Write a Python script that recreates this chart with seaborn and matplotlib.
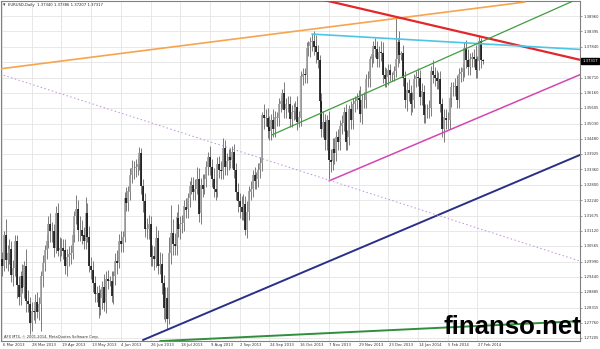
import numpy as np
import pandas as pd
import matplotlib
matplotlib.use("Agg")
import matplotlib.pyplot as plt
import matplotlib.transforms as mtransforms
import seaborn as sns

# ---------------- data ----------------
symbol_title = "EURUSD,Daily  1.37340 1.37386 1.37207 1.37317"
copyright_text = "AFX MT4, \u00a9 2001-2014, MetaQuotes Software Corp."
watermark = "finanso.net"
current_price = 1.37317

date_ticks = [0, 16, 32, 48, 64, 80, 96, 112, 128, 144, 160, 176, 192, 208, 224, 240, 256]
date_labels = ["6 Mar 2013", "28 Mar 2013", "19 Apr 2013", "13 May 2013", "4 Jun 2013",
               "26 Jun 2013", "18 Jul 2013", "9 Aug 2013", "2 Sep 2013", "24 Sep 2013",
               "16 Oct 2013", "7 Nov 2013", "29 Nov 2013", "23 Dec 2013", "14 Jan 2014",
               "5 Feb 2014", "27 Feb 2014"]

price_ticks = [1.38960, 1.38395, 1.37840, 1.37285, 1.36710, 1.36160, 1.35605, 1.35030,
               1.34480, 1.33925, 1.33360, 1.32800, 1.32240, 1.31675, 1.31120, 1.30565,
               1.29990, 1.29440, 1.28885, 1.28315, 1.27760, 1.27205]

first_open = 1.3010
close = [
    1.2985, 1.3095, 1.3005, 1.3030, 1.3045, 1.2950, 1.2975, 1.3075, 1.2915, 1.2870,
    1.2945, 1.2905, 1.2985, 1.2855, 1.2845, 1.2775, 1.2820, 1.2815, 1.2850, 1.2815,
    1.2845, 1.2945, 1.2995, 1.3040, 1.3075, 1.3135, 1.3110, 1.3110, 1.3050, 1.3175,
    1.3040, 1.3050, 1.3050, 1.3040, 1.2985, 1.3015, 1.3025, 1.3030, 1.3095, 1.3165,
    1.3190, 1.3115, 1.3115, 1.3095, 1.3075, 1.3175, 1.3090, 1.2985, 1.2970, 1.2920,
    1.2880, 1.2885, 1.2835, 1.2865, 1.2905, 1.2850, 1.2935, 1.2930, 1.2930, 1.2875,
    1.2945, 1.3000, 1.2995, 1.3075, 1.3065, 1.3090, 1.3230, 1.3215, 1.3255, 1.3315,
    1.3340, 1.3340, 1.3345, 1.3355, 1.3395, 1.3275, 1.3220, 1.3120, 1.3120, 1.3135,
    1.3015, 1.3020, 1.3010, 1.3085, 1.2985, 1.2990, 1.2920, 1.2830, 1.2865, 1.2790,
    1.3030, 1.3105, 1.3065, 1.3055, 1.3160, 1.3120, 1.3135, 1.3140, 1.3200, 1.3190,
    1.3230, 1.3275, 1.3280, 1.3255, 1.3265, 1.3300, 1.3175, 1.3280, 1.3265, 1.3300,
    1.3345, 1.3380, 1.3345, 1.3300, 1.3265, 1.3255, 1.3355, 1.3335, 1.3330, 1.3415,
    1.3345, 1.3365, 1.3380, 1.3370, 1.3400, 1.3335, 1.3255, 1.3220, 1.3200, 1.3180,
    1.3210, 1.3115, 1.3180, 1.3255, 1.3265, 1.3315, 1.3295, 1.3300, 1.3335, 1.3360,
    1.3535, 1.3525, 1.3525, 1.3490, 1.3475, 1.3515, 1.3485, 1.3525, 1.3525, 1.3575,
    1.3585, 1.3615, 1.3555, 1.3575, 1.3575, 1.3520, 1.3545, 1.3550, 1.3565, 1.3510,
    1.3525, 1.3675, 1.3685, 1.3680, 1.3780, 1.3785, 1.3800, 1.3805, 1.3785, 1.3765,
    1.3735, 1.3585, 1.3485, 1.3510, 1.3445, 1.3515, 1.3370, 1.3365, 1.3410, 1.3395,
    1.3455, 1.3435, 1.3495, 1.3505, 1.3545, 1.3435, 1.3455, 1.3555, 1.3515, 1.3575,
    1.3585, 1.3595, 1.3590, 1.3540, 1.3590, 1.3590, 1.3665, 1.3665, 1.3740, 1.3755,
    1.3785, 1.3775, 1.3740, 1.3765, 1.3760, 1.3680, 1.3665, 1.3675, 1.3700, 1.3680,
    1.3680, 1.3695, 1.3740, 1.3800, 1.3755, 1.3760, 1.3670, 1.3590, 1.3625, 1.3615,
    1.3575, 1.3590, 1.3665, 1.3675, 1.3670, 1.3600, 1.3620, 1.3535, 1.3555, 1.3555,
    1.3560, 1.3695, 1.3680, 1.3670, 1.3660, 1.3665, 1.3575, 1.3485, 1.3525, 1.3515,
    1.3515, 1.3595, 1.3635, 1.3635, 1.3640, 1.3590, 1.3685, 1.3690, 1.3705, 1.3780,
    1.3735, 1.3710, 1.3740, 1.3745, 1.3740, 1.3700, 1.3730, 1.3805, 1.3735, 1.37317,
]
# wick lengths in pips (above max(open, close) / below min(open, close))
upper_wick = [
    25, 15, 60, 30, 35, 30, 30, 20, 20, 30,
    20, 45, 15, 60, 40, 25, 30, 15, 30, 40,
    25, 20, 30, 20, 25, 30, 40, 35, 25, 28,
    40, 40, 35, 30, 40, 30, 30, 30, 25, 20,
    53, 35, 50, 35, 30, 60, 40, 40, 30, 30,
    25, 25, 30, 35, 25, 50, 30, 35, 15, 35,
    20, 30, 40, 25, 35, 20, 25, 40, 20, 25,
    30, 25, 30, 25, 21, 20, 25, 30, 40, 35,
    30, 40, 35, 45, 30, 45, 40, 30, 40, 40,
    60, 100, 50, 40, 20, 50, 30, 30, 25, 30,
    20, 20, 30, 30, 35, 45, 40, 25, 40, 20,
    20, 20, 40, 30, 40, 40, 25, 30, 30, 37,
    30, 30, 30, 35, 20, 30, 25, 30, 30, 40,
    35, 30, 40, 20, 30, 20, 30, 25, 25, 20,
    10, 40, 30, 35, 40, 25, 40, 25, 20, 20,
    20, 15, 40, 20, 30, 30, 25, 30, 20, 40,
    25, 20, 20, 20, 20, 20, 20, 27, 35, 40,
    25, 20, 30, 40, 30, 20, 35, 40, 40, 40,
    20, 30, 20, 30, 20, 30, 25, 15, 30, 20,
    20, 20, 30, 50, 20, 30, 20, 30, 10, 20,
    20, 30, 30, 20, 40, 40, 30, 30, 20, 20,
    10, 20, 153, 15, 40, 10, 30, 25, 30, 40,
    30, 30, 20, 20, 30, 30, 30, 25, 20, 20,
    30, 20, 40, 30, 30, 25, 30, 20, 30, 30,
    30, 20, 20, 20, 30, 40, 20, 20, 20, 20,
    30, 40, 20, 20, 30, 50, 20, 20, 10, 5,
]
lower_wick = [
    40, 20, 30, 40, 40, 25, 40, 30, 50, 30,
    30, 20, 40, 40, 30, 40, 30, 30, 40, 20,
    30, 100, 40, 30, 30, 25, 40, 40, 35, 20,
    20, 40, 30, 30, 30, 40, 30, 35, 20, 25,
    30, 40, 40, 30, 30, 30, 20, 25, 35, 30,
    30, 30, 40, 30, 40, 30, 40, 30, 20, 25,
    30, 30, 40, 20, 30, 30, 20, 30, 30, 30,
    30, 40, 30, 30, 20, 30, 40, 30, 40, 40,
    30, 30, 40, 30, 30, 30, 40, 40, 50, 35,
    20, 40, 40, 30, 30, 30, 40, 30, 30, 30,
    30, 30, 30, 30, 30, 20, 30, 40, 30, 20,
    30, 30, 30, 30, 30, 30, 20, 30, 30, 30,
    30, 30, 30, 30, 30, 30, 30, 40, 40, 30,
    30, 20, 30, 30, 30, 30, 30, 30, 30, 30,
    30, 40, 30, 40, 30, 30, 30, 30, 30, 30,
    30, 30, 30, 30, 30, 30, 30, 30, 30, 30,
    20, 30, 30, 30, 30, 30, 40, 30, 30, 40,
    30, 20, 30, 30, 40, 40, 70, 40, 30, 40,
    30, 30, 30, 30, 30, 30, 30, 30, 30, 30,
    30, 30, 30, 30, 40, 30, 30, 30, 30, 30,
    30, 30, 30, 30, 30, 30, 30, 30, 30, 20,
    20, 20, 20, 30, 30, 20, 30, 30, 40, 30,
    40, 30, 30, 30, 30, 30, 30, 30, 30, 30,
    30, 30, 30, 30, 30, 30, 30, 30, 50, 30,
    30, 30, 30, 30, 30, 30, 30, 30, 30, 30,
    30, 30, 30, 30, 30, 30, 30, 30, 30, 11,
]

# trend lines: endpoints in (bar index, price)
line_names = ["orange", "red", "cyan", "green_up", "magenta", "navy", "green_low", "dotted"]
line_x0 = [-1.1, 172.9, 166.9, 145.4, 176.1, 75.9, 85.1, -1.1]
line_p0 = [1.3703, 1.3955, 1.3830, 1.3462, 1.3294, 1.2713, 1.2709, 1.3684]
line_x1 = [281.6, 311.3, 311.3, 308.6, 311.3, 311.3, 311.3, 311.3]
line_p1 = [1.3947, 1.3736, 1.3774, 1.3954, 1.3682, 1.3389, 1.2782, 1.3001]

# ---------------- style ----------------
line_colors = {"orange": "#f6a54c", "red": "#e3262c", "cyan": "#4cc6e4", "green_up": "#3f9d3f",
               "magenta": "#d445b4", "navy": "#2b2f86", "green_low": "#2f8f3a", "dotted": "#bb8fdc"}
line_widths = {"orange": 1.2, "red": 1.6, "cyan": 1.2, "green_up": 0.9,
               "magenta": 1.1, "navy": 1.4, "green_low": 1.4, "dotted": 0.7}

sns.set_theme(style="white")
plt.rcParams["font.family"] = ["DejaVu Sans"]

W, H = 600, 349
fig = plt.figure(figsize=(W / 100, H / 100), dpi=100)
fig.patch.set_facecolor("white")
ax = fig.add_axes([1 / W, 1 - 341 / H, 579 / W, 340 / H])
ax.set_facecolor("white")

px_per_bar = 1.857
xlim = ((1 - 2) / px_per_bar, (580 - 2) / px_per_bar)
ylim = (1.27094, 1.39508)
ax.set_xlim(*xlim)
ax.set_ylim(*ylim)

# grid
for t in date_ticks:
    ax.axvline(t, color="#e4e4e4", lw=0.6, zorder=0)
for p in price_ticks:
    ax.axhline(p, color="#e4e4e4", lw=0.6, zorder=0)

# candles
df = pd.DataFrame({"close": close, "up": upper_wick, "dn": lower_wick})
df["open"] = [first_open] + close[:-1]
df["i"] = np.arange(len(df))
df["top"] = df[["open", "close"]].max(axis=1)
df["bot"] = df[["open", "close"]].min(axis=1)
df["high"] = df["top"] + df["up"] * 1e-4
df["low"] = df["bot"] - df["dn"] * 1e-4
bull = df["close"] >= df["open"]

ax.vlines(df["i"], df["low"], df["high"], color="#666666", lw=0.6, zorder=2)
ax.vlines(df.loc[bull, "i"], df.loc[bull, "bot"], df.loc[bull, "top"] + 0.00005,
          color="#9c9c9c", lw=1.2, zorder=3)
ax.vlines(df.loc[~bull, "i"], df.loc[~bull, "bot"] - 0.00005, df.loc[~bull, "top"],
          color="#111111", lw=1.2, zorder=3)

# trend lines via seaborn
for name, x0, p0, x1, p1 in zip(line_names, line_x0, line_p0, line_x1, line_p1):
    seg = pd.DataFrame({"x": [x0, x1], "price": [p0, p1]})
    sns.lineplot(data=seg, x="x", y="price", ax=ax, color=line_colors[name],
                 lw=line_widths[name], sort=False, estimator=None, zorder=4,
                 linestyle=(0, (1.5, 2.5)) if name == "dotted" else "-")

# axes cosmetics
for s in ["left", "bottom", "right", "top"]:
    ax.spines[s].set_color("#808080")
    ax.spines[s].set_linewidth(0.8)
ax.set_xlabel("")
ax.set_ylabel("")
ax.yaxis.tick_right()
ax.set_yticks(price_ticks)
# the tick nearest the current price is covered by the price box, as in the terminal
ax.set_yticklabels(["" if abs(p - current_price) < 0.002 else f"{p:.5f}" for p in price_ticks],
                   fontsize=2.7, color="#333333")
ax.tick_params(axis="y", length=1.5, width=0.4, pad=1.2, colors="#555555", labelcolor="#333333")
ax.set_xticks(date_ticks)
ax.set_xticklabels([])
ax.tick_params(axis="x", length=1.5, width=0.4, colors="#555555")
tr = mtransforms.blended_transform_factory(ax.transData, ax.transAxes)
for t, lab in zip(date_ticks, date_labels):
    ax.text(t + 0.3, -0.007, lab, transform=tr, fontsize=2.7, color="#333333",
            ha="left", va="top", clip_on=False)

# current price label
ax.annotate(f"{current_price:.5f}", xy=(1.0, current_price), xycoords=("axes fraction", "data"),
            xytext=(1.5, 0), textcoords="offset points", fontsize=2.7, color="white",
            ha="left", va="center", zorder=10,
            bbox=dict(boxstyle="square,pad=0.25", fc="black", ec="black"))

# texts
fig.text(3 / W, 1 - 5 / H, "\u25be", fontsize=3.5, color="#333333", va="center", ha="left")
fig.text(8 / W, 1 - 5 / H, symbol_title, fontsize=2.7, color="#222222", va="center", ha="left")
fig.text(4 / W, 1 - 337 / H, copyright_text, fontsize=2.6, color="#333333", va="center", ha="left")
fig.text(443 / W, 1 - 334 / H, watermark, fontsize=18.6, fontweight="bold", color="black",
         family=["Liberation Sans", "DejaVu Sans"], va="baseline", ha="left", zorder=20)

fig.savefig("out.png", dpi=100, facecolor="white")
